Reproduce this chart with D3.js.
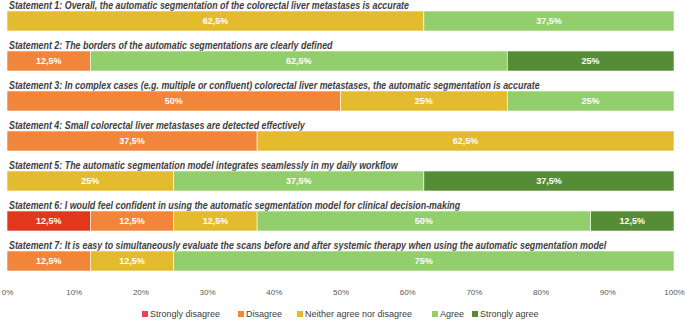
<!DOCTYPE html>
<html><head><meta charset="utf-8">
<script src="https://cdn.jsdelivr.net/npm/d3@7"></script>
<style>body{margin:0;background:#fff}svg{display:block}</style>
</head><body>
<script>
const statements = [
  "Statement 1: Overall, the automatic segmentation of the colorectal liver metastases is accurate",
  "Statement 2: The borders of the automatic segmentations are clearly defined",
  "Statement 3: In complex cases (e.g. multiple or confluent) colorectal liver metastases, the automatic segmentation is accurate",
  "Statement 4: Small colorectal liver metastases are detected effectively",
  "Statement 5: The automatic segmentation model integrates seamlessly in my daily workflow",
  "Statement 6: I would feel confident in using the automatic segmentation model for clinical decision-making",
  "Statement 7: It is easy to simultaneously  evaluate the scans before and after systemic therapy when using the automatic segmentation model"
];
const categories = ["Strongly disagree","Disagree","Neither agree nor disagree","Agree","Strongly agree"];
const stronglyDisagree = [0, 0, 0, 0, 0, 12.5, 0];
const disagree         = [0, 12.5, 50, 37.5, 0, 12.5, 12.5];
const neutral          = [62.5, 0, 25, 62.5, 25, 12.5, 12.5];
const agree            = [37.5, 62.5, 25, 0, 37.5, 50, 75];
const stronglyAgree    = [0, 25, 0, 0, 37.5, 12.5, 0];
const tickValues = [0,10,20,30,40,50,60,70,80,90,100];
const colors = ["#E1371D","#F0853B","#E4BB2E","#93CE6C","#578C37"];
const legendColors = ["#EC4152","#F0853B","#E4BB2E","#93CE6C","#578C37"];

const W = 685, H = 321;
const svg = d3.select("body").append("svg").attr("width", W).attr("height", H);

const series = [stronglyDisagree, disagree, neutral, agree, stronglyAgree];
const rows = statements.map((s, i) => {
  const obj = {statement: s};
  categories.forEach((c, j) => obj[c] = series[j][i]);
  return obj;
});
const stack = d3.stack().keys(categories)(rows);

const x = d3.scaleLinear().domain([0, 100]).range([7, 674]);
const y = d3.scaleBand().domain(statements).range([1, 281]).paddingInner(0.5).paddingOuter(0.25);

// titles
const titles = svg.append("g").selectAll("text").data(statements).join("text")
  .attr("x", 9)
  .attr("y", d => y(d) - 2.5)
  .attr("font-family", "Liberation Sans, Arial, sans-serif")
  .attr("font-style", "italic")
  .attr("font-weight", "bold")
  .attr("font-size", 10)
  .attr("fill", "#404040")
  .text(d => d);
const L1 = titles.nodes()[0].getComputedTextLength();
const k = 400 / L1;
titles.each(function(){
  const L = this.getComputedTextLength();
  d3.select(this).attr("textLength", L * k).attr("lengthAdjust", "spacingAndGlyphs");
});

// bars
const groups = svg.append("g").selectAll("g").data(stack).join("g")
  .attr("fill", (d, i) => colors[i]);
groups.selectAll("rect").data(d => d.map(v => ({v, key: d.key}))).join("rect")
  .attr("x", d => x(d.v[0]))
  .attr("y", d => y(d.v.data.statement))
  .attr("width", d => x(d.v[1]) - x(d.v[0]))
  .attr("height", y.bandwidth())
  .attr("stroke", "#fff").attr("stroke-width", 0.6);

// labels
const fmt = v => String(v).replace(".", ",") + "%";
groups.selectAll("text").data(d => d.filter(v => v[1] - v[0] > 0)).join("text")
  .attr("x", d => (x(d[0]) + x(d[1])) / 2)
  .attr("y", d => y(d.data.statement) + y.bandwidth() / 2)
  .attr("dy", "0.35em")
  .attr("text-anchor", "middle")
  .attr("font-family", "Liberation Sans, Arial, sans-serif")
  .attr("font-weight", "bold")
  .attr("font-size", 9)
  .attr("fill", "#fff")
  .text(d => fmt(d[1] - d[0]));

// axis
const axis = svg.append("g").attr("transform", "translate(0,289)")
  .call(d3.axisBottom(x).tickValues(tickValues).tickFormat(d => d + "%").tickSize(0).tickPadding(0));
axis.select(".domain").remove();
axis.selectAll("text").attr("font-family", "Liberation Sans, Arial, sans-serif")
  .attr("font-size", 8).attr("fill", "#595959");

// legend
const legendX = [142, 238, 297, 432, 472];
const lg = svg.append("g").selectAll("g").data(categories).join("g")
  .attr("transform", (d, i) => `translate(${legendX[i]},314)`);
lg.append("rect").attr("x", 0).attr("y", -3).attr("width", 6).attr("height", 6)
  .attr("fill", (d, i) => legendColors[i]);
lg.append("text").attr("x", 8).attr("dy", "0.35em")
  .attr("font-family", "Liberation Sans, Arial, sans-serif")
  .attr("font-size", 9).attr("fill", "#404040").text(d => d);
</script>
</body></html>
